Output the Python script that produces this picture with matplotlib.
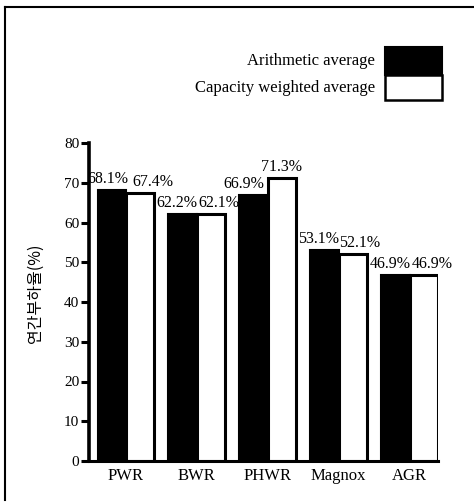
import matplotlib
matplotlib.use("Agg")
import matplotlib.pyplot as plt
from matplotlib.patches import Rectangle
from matplotlib.lines import Line2D
import numpy as np

categories = ["PWR", "BWR", "PHWR", "Magnox", "AGR"]
arithmetic = [68.1, 62.2, 66.9, 53.1, 46.9]
weighted = [67.4, 62.1, 71.3, 52.1, 46.9]
yticks = [0, 10, 20, 30, 40, 50, 60, 70, 80]
series_labels = ["Arithmetic average", "Capacity weighted average"]
ylabel = "연간부하율(%)"

serif = ["Liberation Serif", "DejaVu Serif"]
plt.rcParams["font.family"] = serif

W, H = 474, 504
fig = plt.figure(figsize=(W / 100, H / 100), dpi=100)
ax = fig.add_axes([89 / W, (H - 461) / H, (438 - 89) / W, (461 - 143) / H])

x = np.arange(len(categories))
bw = 0.4
ax.bar(x - bw / 2, arithmetic, width=bw, color="black", edgecolor="black", linewidth=1.5)
ax.bar(x + bw / 2, weighted, width=bw, color="white", edgecolor="black", linewidth=2.2)

# label offsets (points) to keep neighbouring labels apart
off_a = [-3, -4, -7, -4, -4]
off_w = [9, 6, 0, 5, 6]
for i in range(len(categories)):
    ax.annotate(f"{arithmetic[i]}%", (x[i] - bw / 2, arithmetic[i]),
                xytext=(off_a[i], 5), textcoords="offset points",
                ha="center", va="baseline", fontsize=11.5)
    ax.annotate(f"{weighted[i]}%", (x[i] + bw / 2, weighted[i]),
                xytext=(off_w[i], 5), textcoords="offset points",
                ha="center", va="baseline", fontsize=11.5)

ax.set_xlim(-0.52, 4.4)
ax.set_ylim(0, 80)
ax.set_yticks(yticks)
ax.set_xticks(x)
ax.set_xticklabels(categories, fontsize=12)
ax.tick_params(axis="x", length=0, pad=5)
ax.tick_params(axis="y", length=6, width=2.2, pad=1, labelsize=11)
for s in ["top", "right"]:
    ax.spines[s].set_visible(False)
ax.spines["left"].set_linewidth(2.6)
ax.spines["bottom"].set_linewidth(2.2)

fig.text(35 / W, 1 - 293 / H, ylabel, rotation=90, ha="center", va="center",
         fontsize=11.5, family=["Noto Sans CJK KR", "DejaVu Sans"])

# legend
fig.text(375 / W, 1 - 61 / H, series_labels[0], ha="right", va="center", fontsize=12)
fig.text(375 / W, 1 - 88 / H, series_labels[1], ha="right", va="center", fontsize=12)
fig.add_artist(Rectangle((385 / W, 1 - 75 / H), 57 / W, 28 / H, transform=fig.transFigure,
                         facecolor="black", edgecolor="black", linewidth=1.5))
fig.add_artist(Rectangle((385 / W, 1 - 100 / H), 57 / W, 25 / H, transform=fig.transFigure,
                         facecolor="white", edgecolor="black", linewidth=1.8))

# page frame (scan border)
fig.add_artist(Line2D([5 / W, 5 / W], [1 - 7 / H, 1 - 500 / H], transform=fig.transFigure,
                      color="black", linewidth=1.5))
fig.add_artist(Line2D([5 / W, 1.0], [1 - 7 / H, 1 - 7 / H], transform=fig.transFigure,
                      color="black", linewidth=1.5))

fig.savefig("out.png", dpi=100)
